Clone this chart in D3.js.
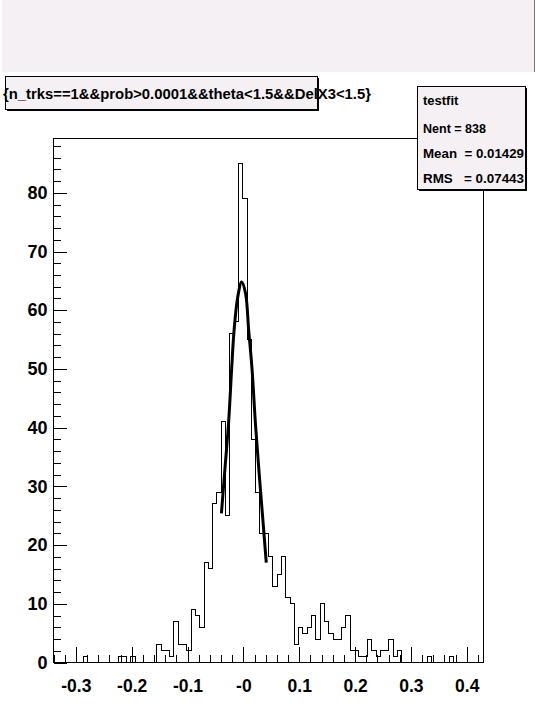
<!DOCTYPE html>
<html>
<head>
<meta charset="utf-8">
<script src="https://cdn.jsdelivr.net/npm/d3@7"></script>
<style>
  body { margin: 0; background: #fff; }
  svg { display: block; }
  text { font-family: "Liberation Sans", Arial, sans-serif; font-weight: bold; fill: #000; }
</style>
</head>
<body>
<div id="chart"></div>
<script>
"use strict";

// === DATA ===
const xMin = -0.34, xMax = 0.43;          // histogram range, 100 bins
const counts = [
  0, 0, 0, 0, 0, 0, 0, 1, 0, 0,
  0, 0, 0, 0, 0, 1, 1, 0, 1, 0,
  0, 0, 0, 0, 3, 2, 2, 1, 7, 3,
  3, 2, 9, 8, 6, 17, 16, 27, 29, 41,
  25, 56, 58, 85, 79, 55, 38, 29, 22, 22,
  18, 13, 15, 18, 11, 10, 3, 6, 5, 6,
  8, 4, 10, 7, 5, 4, 4, 6, 8, 2,
  2, 1, 1, 4, 2, 1, 2, 2, 4, 1,
  2, 0, 0, 0, 0, 0, 0, 1, 0, 0,
  0, 0, 1, 0, 0, 0, 0, 0, 0, 0
];

// gaussian fit curve
const fitX = [-0.0393, -0.033, -0.0263, -0.021, -0.0166, -0.010, -0.003, 0.004, 0.0095, 0.0155, 0.0214, 0.028, 0.034, 0.041];
const fitY = [25.4, 33, 41.1, 50, 56.6, 62.3, 64.8, 62.8, 56.6, 50, 41, 32.5, 25.4, 17];

const xTicks = [-0.3, -0.2, -0.1, 0, 0.1, 0.2, 0.3, 0.4];
const xTickLabels = ["-0.3", "-0.2", "-0.1", "-0", "0.1", "0.2", "0.3", "0.4"];
const yTicks = [0, 10, 20, 30, 40, 50, 60, 70, 80];

const title = "{n_trks==1&&prob>0.0001&&theta<1.5&&DelX3<1.5}";
const statsName = "testfit";
const statsLines = ["Nent = 838", "Mean  = 0.01429", "RMS   = 0.07443"];

// === SVG SETUP ===
const W = 536, H = 728;
const frame = { left: 53, right: 483, top: 138, bottom: 662 };
const paneFill = "#f4f0f4";

const svg = d3.select("#chart").append("svg")
  .attr("width", W)
  .attr("height", H);

// top grey band
svg.append("rect")
  .attr("x", 2).attr("y", 0)
  .attr("width", 532).attr("height", 72)
  .attr("fill", paneFill);
svg.append("line")
  .attr("x1", 534.5).attr("x2", 534.5)
  .attr("y1", 0).attr("y2", 72)
  .attr("stroke", "#777");

// === SCALES ===
const yMax = d3.max(counts) * 1.05;
const x = d3.scaleLinear().domain([xMin, xMax]).range([frame.left, frame.right]);
const y = d3.scaleLinear().domain([0, yMax]).range([frame.bottom, frame.top]);

const plot = svg.append("g").attr("transform", "translate(0.5,0.5)");

// frame
plot.append("rect")
  .attr("x", frame.left).attr("y", frame.top)
  .attr("width", frame.right - frame.left)
  .attr("height", frame.bottom - frame.top)
  .attr("fill", "#fff")
  .attr("stroke", "#000")
  .attr("shape-rendering", "crispEdges");

// === AXES ===
const xMinor = d3.range(0, 39).map(i => +(xMin + i * 0.02).toFixed(2));
plot.append("g")
  .attr("transform", `translate(0,${frame.bottom})`)
  .attr("shape-rendering", "crispEdges")
  .call(d3.axisBottom(x).tickValues(xMinor).tickSizeInner(-8).tickSizeOuter(0).tickFormat(""))
  .call(g => g.select(".domain").remove());

plot.append("g")
  .attr("transform", `translate(0,${frame.bottom})`)
  .attr("shape-rendering", "crispEdges")
  .call(d3.axisBottom(x).tickValues(xTicks).tickSizeInner(-16).tickSizeOuter(0)
    .tickPadding(17).tickFormat((d, i) => xTickLabels[i]))
  .call(g => g.select(".domain").remove())
  .call(g => g.selectAll("text")
    .attr("font-size", "17.5px")
    .attr("font-family", null));

const yMinor = d3.range(0, 45).map(i => i * 2);
plot.append("g")
  .attr("transform", `translate(${frame.left},0)`)
  .attr("shape-rendering", "crispEdges")
  .call(d3.axisLeft(y).tickValues(yMinor).tickSizeInner(-7).tickSizeOuter(0).tickFormat(""))
  .call(g => g.select(".domain").remove());

plot.append("g")
  .attr("transform", `translate(${frame.left},0)`)
  .attr("shape-rendering", "crispEdges")
  .call(d3.axisLeft(y).tickValues(yTicks).tickSizeInner(-13).tickSizeOuter(0).tickPadding(6))
  .call(g => g.select(".domain").remove())
  .call(g => g.selectAll("text")
    .attr("font-size", "18px")
    .attr("font-family", null));

// === HISTOGRAM ===
const binW = (xMax - xMin) / counts.length;
const steps = counts.map((c, i) => [xMin + i * binW, c]);
steps.push([xMax, counts[counts.length - 1]]);

plot.append("path")
  .datum(steps)
  .attr("fill", "none")
  .attr("stroke", "#000")
  .attr("stroke-width", 1)
  .attr("shape-rendering", "crispEdges")
  .attr("d", d3.line().x(d => x(d[0])).y(d => y(d[1])).curve(d3.curveStepAfter));

// === FIT ===
plot.append("path")
  .datum(fitX.map((v, i) => [v, fitY[i]]))
  .attr("fill", "none")
  .attr("stroke", "#000")
  .attr("stroke-width", 3)
  .attr("d", d3.line().x(d => x(d[0])).y(d => y(d[1])).curve(d3.curveCatmullRom));

// === TITLE BOX ===
function pave(x0, y0, w, h) {
  svg.append("rect")
    .attr("x", x0 + 2).attr("y", y0 + 2)
    .attr("width", w).attr("height", h)
    .attr("fill", "#000");
  svg.append("rect")
    .attr("x", x0 + 0.5).attr("y", y0 + 0.5)
    .attr("width", w).attr("height", h)
    .attr("fill", paneFill)
    .attr("stroke", "#000");
}

pave(5, 76, 312, 33);
svg.append("text")
  .attr("x", 3).attr("y", 99)
  .attr("font-size", "15.5px")
  .attr("textLength", 368)
  .attr("lengthAdjust", "spacingAndGlyphs")
  .text(title);

// === STATS BOX ===
pave(417, 86, 108, 103);
svg.append("text")
  .attr("x", 423).attr("y", 105)
  .attr("font-size", "13px")
  .text(statsName);

const statsY = [133, 158, 183];
const statsLen = [63, 101, 101];
statsLines.forEach((s, i) => {
  svg.append("text")
    .attr("x", 423).attr("y", statsY[i])
    .attr("font-size", "13.5px")
    .attr("textLength", statsLen[i])
    .attr("lengthAdjust", "spacingAndGlyphs")
    .style("white-space", "pre")
    .text(s);
});
</script>
</body>
</html>
